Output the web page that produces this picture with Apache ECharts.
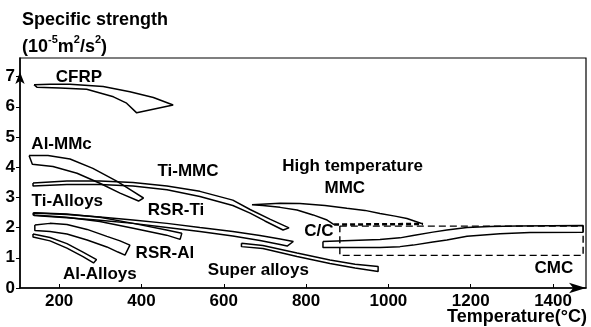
<!DOCTYPE html>
<html><head><meta charset="utf-8">
<script src="https://cdn.jsdelivr.net/npm/echarts@6/dist/echarts.min.js"></script>
<style>html,body{margin:0;padding:0;background:#fff}#c{width:591px;height:327px}</style>
</head><body><div id="c"></div>
<script>
// Tick labels
const xTicks = [200, 400, 600, 800, 1000, 1200, 1400];
const yTicks = [0, 1, 2, 3, 4, 5, 6, 7];

// Band outlines: [temperature °C, specific strength]
const cfrpUpper = [[139,6.73],[178,6.75],[226.5,6.75],[307,6.67],[372,6.50],[429,6.31],[477,6.06]];
const cfrpLower = [[146,6.65],[202,6.62],[267,6.58],[332,6.33],[364,6.12],[388.5,5.80]];
const alMmcUpper = [[127,4.39],[173,4.39],[226.5,4.27],[282,3.96],[341,3.53],[379.5,3.20],[405,2.98]];
const alMmcLower = [[135,4.10],[185,4.02],[243.5,3.80],[299,3.47],[348,3.14],[393,2.88]];
const tiMmcUpper = [[136.6,3.48],[219,3.54],[299,3.54],[379.5,3.49],[462,3.38],[542,3.20],[622,2.91],[664,2.60],[712,2.28],[758.5,1.99]];
const tiMmcLower = [[136.6,3.38],[219,3.43],[299,3.43],[379.5,3.38],[462,3.25],[542,3.03],[622,2.73],[664,2.48],[700,2.22],[744,1.92]];
const htMmcUpper = [[668.6,2.80],[736.6,2.81],[785,2.80],[846,2.73],[899,2.64],[943,2.57],[979.5,2.47],[1016,2.38],[1045,2.30],[1084,2.12]];
const htMmcLower = [[668.6,2.76],[695,2.73],[736.6,2.67],[778,2.58],[817,2.42],[851,2.25],[868,2.10]];
const htMmcBase = [[868,2.10],[1084,2.12]];
const ccBox = [[882,2.05],[1473,2.05],[1473,1.08],[882,1.08],[882,2.05]];
const cmcUpper = [[841,1.54],[979.5,1.61],[1028,1.66],[1060,1.74],[1108,1.85],[1142,1.92],[1191,2.00],[1247,2.04],[1312,2.05],[1473,2.07]];
const cmcLower = [[841,1.34],[979.5,1.34],[1028,1.37],[1060,1.42],[1108,1.52],[1142,1.59],[1191,1.71],[1271,1.80],[1344,1.84],[1473,1.85]];
const superUpper = [[643,1.48],[695,1.41],[778,1.16],[858,0.93],[919,0.79],[975,0.71]];
const superLower = [[643,1.37],[695,1.31],[778,1.04],[858,0.81],[919,0.66],[975,0.55]];
const tiAlloyUpper = [[137,2.49],[218,2.45],[299,2.34],[380,2.14],[461,1.92],[498,1.81]];
const tiAlloyLower = [[137,2.42],[218,2.34],[299,2.20],[380,1.98],[461,1.75],[494,1.61]];
const rsrTiUpper = [[139,2.48],[219,2.43],[299,2.35],[379.5,2.25],[462,2.14],[542,2.00],[622,1.87],[688,1.74],[737,1.62],[769,1.54]];
const rsrTiLower = [[139,2.40],[219,2.33],[299,2.24],[379.5,2.14],[462,2.00],[542,1.87],[622,1.72],[688,1.57],[737,1.44],[754,1.39]];
const rsrAlUpper = [[141,2.09],[178,2.14],[219,2.10],[268,1.94],[316,1.71],[348,1.56],[372,1.42]];
const rsrAlLower = [[141,1.90],[178,1.87],[219,1.79],[268,1.59],[316,1.36],[343,1.19],[360,1.09]];
const alAlloyUpper = [[136.6,1.79],[178,1.67],[219,1.47],[258,1.19],[291,0.94]];
const alAlloyLower = [[136.6,1.69],[178,1.56],[219,1.32],[258,1.04],[283.6,0.83]];

// Annotation labels
const labelNames = ['CFRP','Al-MMc','Ti-MMC','High temperature','MMC','Ti-Alloys','RSR-Ti','C/C','RSR-Al','Al-Alloys','Super alloys','CMC'];
const labelX = [248,206,513,913,894,220,484,831,457,299,684,1402];
const labelY = [6.99,4.77,3.87,4.04,3.29,2.88,2.58,1.89,1.14,0.46,0.60,0.65];

const FONT = 'Liberation Sans';
function band(u, l) { return u.concat(l.slice().reverse(), [u[0]]); }
function outline(data, extra) {
  return Object.assign({
    type: 'line', data: data, symbol: 'none', showSymbol: false, smooth: false,
    silent: true, animation: false,
    lineStyle: { color: '#000', width: 1.5 }
  }, extra || {});
}

const series = [
  outline(band(cfrpUpper, cfrpLower)),
  outline(band(alMmcUpper, alMmcLower)),
  outline(band(tiMmcUpper, tiMmcLower)),
  outline(htMmcLower.slice().reverse().concat(htMmcUpper)),
  outline(htMmcBase, { lineStyle: { color: '#000', width: 2.5, type: [5, 3] } }),
  outline(ccBox, { lineStyle: { color: '#000', width: 1.4, type: [7, 4] } }),
  outline(band(cmcUpper, cmcLower)),
  outline(band(superUpper, superLower)),
  outline(band(tiAlloyUpper, tiAlloyLower)),
  outline(band(rsrTiUpper, rsrTiLower)),
  outline(band(rsrAlUpper, rsrAlLower)),
  outline(band(alAlloyUpper, alAlloyLower)),
  {
    type: 'scatter', symbolSize: 0, silent: true, animation: false,
    itemStyle: { opacity: 1 },
    data: labelNames.map((n, i) => ({ name: n, value: [labelX[i], labelY[i]] })),
    label: { show: true, position: 'inside', formatter: p => p.name, opacity: 1,
      color: '#000', fontFamily: FONT, fontWeight: 'bold', fontSize: 17 }
  }
];

const chart = echarts.init(document.getElementById('c'), null, { renderer: 'canvas' });
chart.setOption({
  backgroundColor: '#fff',
  animation: false,
  textStyle: { fontFamily: FONT },
  title: [
    { left: 22, top: 7, padding: 0,
      text: '{a|Specific strength}\n{a|(10}{s|-5}{a|m}{s|2}{a|/s}{s|2}{a|)}',
      textStyle: { rich: {
        a: { fontSize: 18, fontWeight: 'bold', fontFamily: FONT, color: '#000', lineHeight: 27 },
        s: { fontSize: 11, fontWeight: 'bold', fontFamily: FONT, color: '#000', lineHeight: 18, verticalAlign: 'top' }
      } } },
    { right: 4, top: 305, padding: 0, text: 'Temperature(°C)',
      textStyle: { fontSize: 18, fontWeight: 'bold', fontFamily: FONT, color: '#000', lineHeight: 25 } }
  ],
  grid: { left: 20, right: 5, top: 58, bottom: 39, show: true, borderColor: '#000', borderWidth: 1.2, backgroundColor: 'transparent' },
  xAxis: {
    type: 'value', min: 105, max: 1480,
    splitLine: { show: false },
    axisLine: { lineStyle: { color: '#000', width: 1.5 }, symbol: ['none', 'arrow'], symbolSize: [8, 17] },
    axisTick: { inside: true, length: 4, customValues: xTicks, lineStyle: { color: '#000' } },
    axisLabel: { customValues: xTicks, margin: 5, color: '#000', fontSize: 17, fontWeight: 'bold', fontFamily: FONT,
      formatter: v => String(Math.round(v)) }
  },
  yAxis: {
    type: 'value', min: 0, max: 7.616, interval: 1,
    splitLine: { show: false },
    axisLine: { lineStyle: { color: '#000', width: 1.5 }, symbol: ['none', 'arrow'], symbolSize: [7, 12], symbolOffset: [0, -14] },
    axisTick: { length: 4, customValues: yTicks, lineStyle: { color: '#000' } },
    axisLabel: { customValues: yTicks, margin: 5, color: '#000', fontSize: 17, fontWeight: 'bold', fontFamily: FONT,
      formatter: v => (Math.abs(v - Math.round(v)) < 1e-6 ? String(Math.round(v)) : '') }
  },
  series: series
});
</script></body></html>
